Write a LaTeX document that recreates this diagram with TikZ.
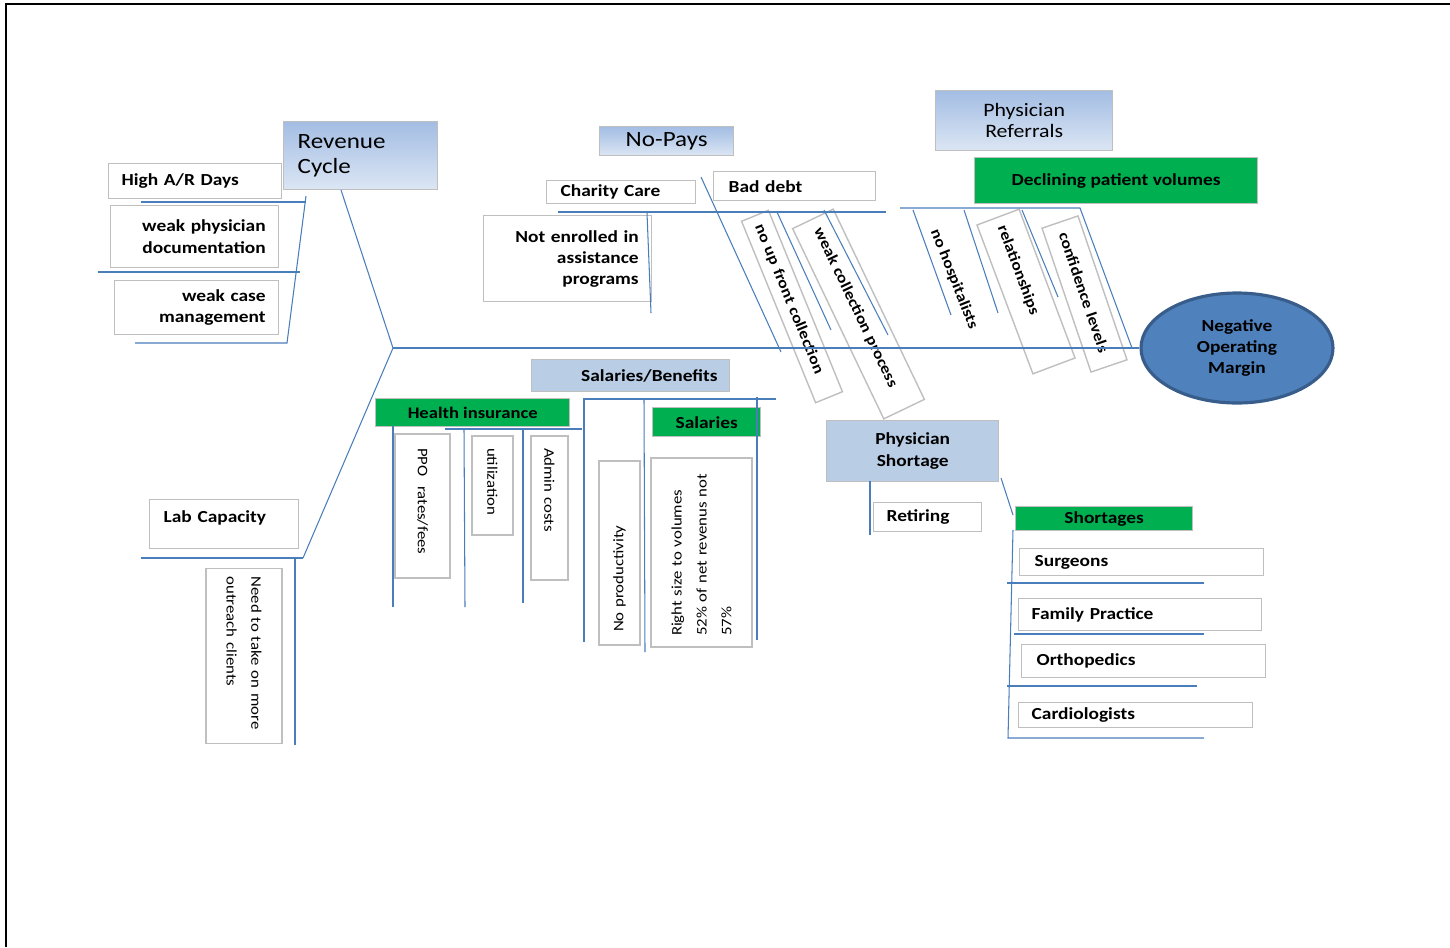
\documentclass[tikz,border=0pt]{standalone}
\usepackage{fontspec}
\setmainfont{Carlito}[FakeStretch=1.15]
\usepackage{tikz}
\usetikzlibrary{shapes.geometric}
\definecolor{fbBlue}{HTML}{4A7EBB}
\definecolor{fbGray}{HTML}{BFBFBF}
\definecolor{fbGreen}{HTML}{00B050}
\definecolor{fbSkyTop}{HTML}{A3BDE3}
\definecolor{fbSkyBot}{HTML}{DCE6F4}
\definecolor{fbSky}{HTML}{B9CDE5}
\definecolor{fbHead}{HTML}{4F81BD}
\definecolor{fbHeadLine}{HTML}{385D8A}
\newcommand\labfont{\fontsize{9.6}{12.2}\selectfont\bfseries}
\newcommand\catfont{\fontsize{12.4}{14.7}\selectfont}
\newcommand\sidefont{\fontsize{8.3}{14.2}\selectfont}
\newcommand\tiltfont{\fontsize{8.7}{10}\selectfont\bfseries}
\tikzset{
  bone/.style={draw=fbBlue, line width=0.6pt},
  labbox/.style={
    rectangle,
    draw=fbGray,
    line width=0.8pt,
    fill=white,
    anchor=north west,
    inner sep=0pt,
    font=\labfont
  },
  catbox/.style={labbox, top color=fbSkyTop, bottom color=fbSkyBot, font=\catfont},
  flatcat/.style={labbox, fill=fbSky},
  greenbox/.style={labbox, fill=fbGreen},
  sidebox/.style={
    rectangle,
    draw=fbGray,
    line width=0.8pt,
    fill=white,
    inner sep=0pt,
    align=left,
    font=\sidefont
  },
  tiltbox/.style={sidebox, font=\tiltfont},
  headnode/.style={
    ellipse,
    draw=fbHeadLine,
    line width=1.8pt,
    fill=fbHead,
    inner sep=0pt,
    align=center,
    font=\fontsize{9.6}{11.9}\selectfont\bfseries
  }
}
\begin{document}
\begin{tikzpicture}[x=0.02cm, y=-0.02cm]
  \useasboundingbox (0,0) rectangle (1450,947);
  \draw[line width=1.5pt] (6,947) -- (6,4) -- (1450,4);

  % head and categories
  \node[headnode, minimum width=3.84cm, minimum height=2.2cm] (head) at (1237,348) {Negative\\Operating\\Margin};
  \node[catbox, minimum width=3.08cm, minimum height=1.36cm, inner xsep=0.28cm, text width=2.52cm, align=left] (rev) at (283,121) {Revenue\\Cycle};
  \node[catbox, minimum width=2.68cm, minimum height=0.58cm] (nopays) at (599,126) {No-Pays};
  \node[catbox, minimum width=3.54cm, minimum height=1.20cm, align=center, font=\fontsize{10.8}{11.9}\selectfont] (referr) at (935,90) {Physician\\Referrals};
  \node[flatcat, minimum width=3.96cm, minimum height=0.64cm, inner xsep=0.24cm, text width=3.48cm, align=right] (salben) at (531,359) {Salaries/Benefits};
  \node[flatcat, minimum width=3.44cm, minimum height=1.22cm, align=center] (phshort) at (826,420) {Physician\\Shortage};

  % revenue cycle
  \node[labbox, minimum width=3.46cm, minimum height=0.70cm, inner xsep=0.26cm, text width=2.94cm, align=left] (hiar) at (108,163) {High A/R Days};
  \node[labbox, minimum width=3.36cm, minimum height=1.24cm, inner xsep=0.26cm, text width=2.84cm, align=right] (wphys) at (110,205) {weak physician\\documentation};
  \node[labbox, minimum width=3.28cm, minimum height=1.08cm, inner xsep=0.26cm, text width=2.76cm, align=right] (wcase) at (114,280) {weak case\\management};

  % lab
  \node[labbox, minimum width=2.98cm, minimum height=0.98cm, inner xsep=0.28cm, text width=2.42cm, align=left, text depth=0.3cm] (lab) at (149,499) {Lab Capacity};
  \node[sidebox, rotate=-90, minimum width=3.50cm, minimum height=1.52cm, inner xsep=0.16cm, text width=3.18cm] (outreach) at (244,656) {Need to take on more\\outreach clients};

  % no-pays
  \node[labbox, minimum width=2.98cm, minimum height=0.46cm, inner xsep=0.28cm, text width=2.42cm, align=left] (charity) at (546,180) {Charity Care};
  \node[labbox, minimum width=3.24cm, minimum height=0.58cm, inner xsep=0.30cm, text width=2.64cm, align=left] (baddebt) at (713,171) {Bad debt};
  \node[labbox, minimum width=3.36cm, minimum height=1.72cm, inner xsep=0.26cm, text width=2.84cm, align=right, font=\fontsize{9.6}{11.9}\selectfont\bfseries] (notenr) at (483,215) {Not enrolled in\\assistance\\programs};
  \node[tiltbox, rotate=-67.8, minimum width=3.92cm, minimum height=0.58cm, inner xsep=0.2cm, text width=3.52cm] (noup) at (792,306.5) {no up front collection};
  \node[tiltbox, rotate=-64.4, minimum width=4.22cm, minimum height=0.90cm, inner xsep=0.22cm, text width=3.78cm] (weakcoll) at (858.5,314) {weak collection process};

  % physician referrals
  \node[greenbox, minimum width=5.66cm, minimum height=0.92cm] (declin) at (974,157) {Declining patient volumes};
  \node[tiltbox, draw=none, fill=none, rotate=-68.4] (nohosp) at (954,279) {no hospitalists};
  \node[tiltbox, rotate=-69.4, minimum width=3.18cm, minimum height=0.90cm, inner xsep=0.2cm, text width=2.78cm] (relat) at (1026,291.5) {relationships};
  \node[tiltbox, rotate=-71.2, minimum width=3.04cm, minimum height=0.76cm, inner xsep=0.22cm, text width=2.60cm] (confid) at (1084.5,294) {confidence levels};

  % salaries/benefits
  \node[greenbox, minimum width=3.88cm, minimum height=0.56cm, font=\fontsize{9.2}{11}\selectfont\bfseries] (health) at (375,398) {Health insurance};
  \node[greenbox, minimum width=2.16cm, minimum height=0.58cm] (sal) at (652,407) {Salaries};
  \node[sidebox, rotate=-90, minimum width=2.88cm, minimum height=1.10cm, inner xsep=0.28cm, text width=2.32cm] (ppo) at (422.5,506) {PPO\ \ rates/fees};
  \node[sidebox, rotate=-90, minimum width=1.98cm, minimum height=0.82cm, inner xsep=0.24cm, text width=1.50cm] (util) at (492.5,485.5) {utilization};
  \node[sidebox, rotate=-90, minimum width=2.88cm, minimum height=0.74cm, inner xsep=0.24cm, text width=2.40cm] (admin) at (549.5,508) {Admin costs};
  \node[sidebox, rotate=90, minimum width=3.68cm, minimum height=0.82cm, inner xsep=0.26cm, text width=3.16cm] (noprod) at (619.5,553) {No productivity};
  \node[sidebox, rotate=90, minimum width=3.78cm, minimum height=2.02cm, inner xsep=0.22cm, text width=3.34cm] (rightsz) at (701.5,552.5) {Right size to volumes\\52\% of net revenus not\\57\%};

  % physician shortage
  \node[labbox, minimum width=2.16cm, minimum height=0.58cm, inner xsep=0.26cm, text width=1.64cm, align=left] (retiring) at (873,502) {Retiring};
  \node[greenbox, minimum width=3.54cm, minimum height=0.48cm] (shortg) at (1015,506) {Shortages};
  \node[labbox, minimum width=4.88cm, minimum height=0.54cm, inner xsep=0.30cm, text width=4.28cm, align=left] (surg) at (1019,548) {Surgeons};
  \node[labbox, minimum width=4.86cm, minimum height=0.64cm, inner xsep=0.26cm, text width=4.34cm, align=left] (family) at (1018,598) {Family Practice};
  \node[labbox, minimum width=4.88cm, minimum height=0.66cm, inner xsep=0.30cm, text width=4.28cm, align=left] (ortho) at (1021,644) {Orthopedics};
  \node[labbox, minimum width=4.68cm, minimum height=0.50cm, inner xsep=0.26cm, text width=4.16cm, align=left] (cardio) at (1018,702) {Cardiologists};

  % bones
  \coordinate (tail) at (393,348);
  \draw[bone] (tail) -- (head);
  \draw[bone] (341,190) -- (tail) -- (303,558);
  \draw[bone] (141,202) -- (306,202);
  \draw[bone] (306,196) -- (287,343) -- (135,343);
  \draw[bone] (98,272) -- (300,272);
  \draw[bone] (141,558) -- (303,558);
  \draw[bone] (295,558) -- (295,745);
  \draw[bone] (558,212) -- (886,212);
  \draw[bone] (647,213) -- (651,313);
  \draw[bone] (701,177) -- (781,352);
  \draw[bone] (777,212) -- (831,330);
  \draw[bone] (824,210) -- (888,335);
  \draw[bone] (900,208) -- (1080,208) -- (1132,348);
  \draw[bone] (913,210) -- (951,315);
  \draw[bone] (964,210) -- (998,313);
  \draw[bone] (1022,210) -- (1058,297);
  \draw[bone] (393,426) -- (393,607);
  \draw[bone] (445,429) -- (582,429);
  \draw[bone] (464,429) -- (465,607);
  \draw[bone] (523,430) -- (523,603);
  \draw[bone] (584,642) -- (584,399) -- (776,399);
  \draw[bone] (644,399) -- (645,652);
  \draw[bone] (757,397) -- (757,640);
  \draw[bone] (870,481) -- (870,535);
  \draw[bone] (1001,478) -- (1013,515);
  \draw[bone] (1013,530) -- (1008,738) -- (1204,738);
  \draw[bone] (1007,583) -- (1204,583);
  \draw[bone] (1014,634) -- (1204,634);
  \draw[bone] (1007,686) -- (1197,686);
\end{tikzpicture}
\end{document}
